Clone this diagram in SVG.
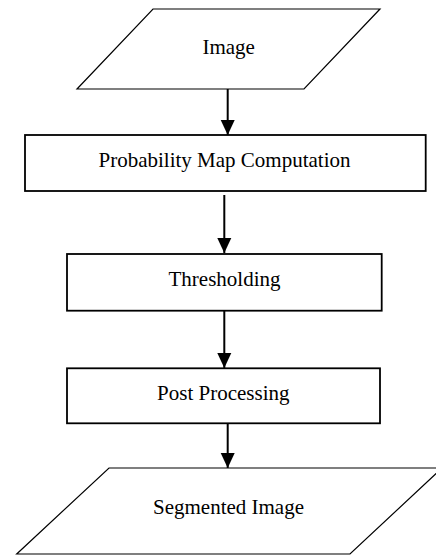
<svg xmlns="http://www.w3.org/2000/svg" width="436" height="556" viewBox="0 0 436 556">
<style>
.io{fill:#fff;stroke:#000;stroke-width:1.2}
.box{fill:#fff;stroke:#000;stroke-width:1.8}
.lbl{font-family:"Liberation Serif","Times New Roman",serif;font-size:21px;fill:#000;text-anchor:middle}
.edge{stroke:#000;stroke-width:2;fill:none;marker-end:url(#ah)}
</style>
<defs>
<marker id="ah" markerUnits="userSpaceOnUse" markerWidth="16" markerHeight="16" viewBox="0 0 16 16" refX="15" refY="8" orient="auto">
<path d="M0,1 L15,8 L0,15 Z" fill="#000"/>
</marker>
</defs>
<rect width="436" height="556" fill="#fff"/>
<g id="connectors">
<line class="edge" x1="227.7" y1="89" x2="227.7" y2="135"/>
<line class="edge" x1="224.3" y1="195" x2="224.3" y2="253"/>
<line class="edge" x1="224.3" y1="311" x2="224.3" y2="368"/>
<line class="edge" x1="227.7" y1="423" x2="227.7" y2="468"/>
</g>
<g id="image">
<polygon class="io" points="153,9 380,9 304,89 77,89"/>
<text class="lbl" x="228.7" y="54">Image</text>
</g>
<g id="probmap">
<rect class="box" x="25" y="135" width="400.7" height="56"/>
<text class="lbl" x="224.5" y="167">Probability Map Computation</text>
</g>
<g id="thresholding">
<rect class="box" x="67" y="254" width="314.7" height="56.7"/>
<text class="lbl" x="224.5" y="286">Thresholding</text>
</g>
<g id="postprocessing">
<rect class="box" x="67" y="368.3" width="313" height="55"/>
<text class="lbl" x="223.3" y="400">Post Processing</text>
</g>
<g id="segmented">
<polygon class="io" points="109,468 442,468 350,554 16.7,554"/>
<text class="lbl" x="228.5" y="514">Segmented Image</text>
</g>
</svg>
